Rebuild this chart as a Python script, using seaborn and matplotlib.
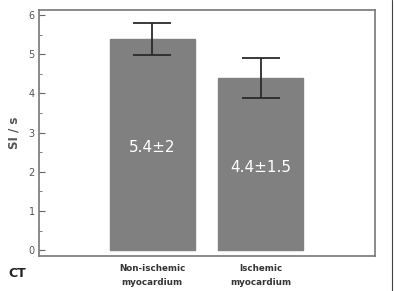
import matplotlib
matplotlib.use("Agg")
import matplotlib.pyplot as plt
from matplotlib.ticker import MultipleLocator
from matplotlib.lines import Line2D
import seaborn as sns
import pandas as pd

categories = ["Non-ischemic\nmyocardium", "Ischemic\nmyocardium"]
means = [5.38, 4.40]
errors = [0.41, 0.51]
labels = ["5.4\u00b12", "4.4\u00b11.5"]
label_y = [2.63, 2.10]
yticks = [0, 1, 2, 3, 4, 5, 6]

sns.set_theme(style="white")
plt.rcParams['font.family'] = ['DejaVu Sans']

df = pd.DataFrame({"cat": categories, "val": means})

fig = plt.figure(figsize=(3.94, 2.91), dpi=100)
ax = fig.add_axes([0.099, 0.120, 0.853, 0.846])

sns.barplot(data=df, x="cat", y="val", color="#808080", width=0.78,
            saturation=1, errorbar=None, ax=ax, edgecolor="#808080")
ax.errorbar(range(len(means)), means, yerr=errors, fmt="none",
            ecolor="#2a2a2a", elinewidth=1.3, capsize=13.5, capthick=1.3)

for i, (t, y) in enumerate(zip(labels, label_y)):
    ax.text(i, y, t, color="white", ha="center", va="center", fontsize=11)

ax.set_xlim(-1.04, 2.05)
ax.set_ylim(-0.15, 6.13)
ax.set_yticks(yticks)
ax.yaxis.set_minor_locator(MultipleLocator(0.5))
ax.tick_params(axis="y", which="major", direction="in", length=4, width=0.8,
               color="#666666", labelsize=7, labelcolor="#555555", pad=3, left=True)
ax.tick_params(axis="y", which="minor", direction="in", length=2, width=0.6,
               color="#666666", left=True)
ax.tick_params(axis="x", length=0, labelsize=6.3, labelcolor="#333333", pad=6)
for lab in ax.get_xticklabels():
    lab.set_fontweight("bold")
    lab.set_linespacing(1.6)
ax.set_xlabel("")
ax.set_ylabel("SI / s", fontsize=8.5, color="#555555", fontweight="bold", labelpad=6)
for s in ax.spines.values():
    s.set_color("#777777")
    s.set_linewidth(1.2)

fig.text(0.02, 0.048, "CT", fontsize=9, fontweight="bold", color="#222222")
fig.add_artist(Line2D([392/394, 392/394], [0, 1], transform=fig.transFigure,
                      color="#444444", linewidth=0.8))

fig.savefig("out.png", dpi=100)
